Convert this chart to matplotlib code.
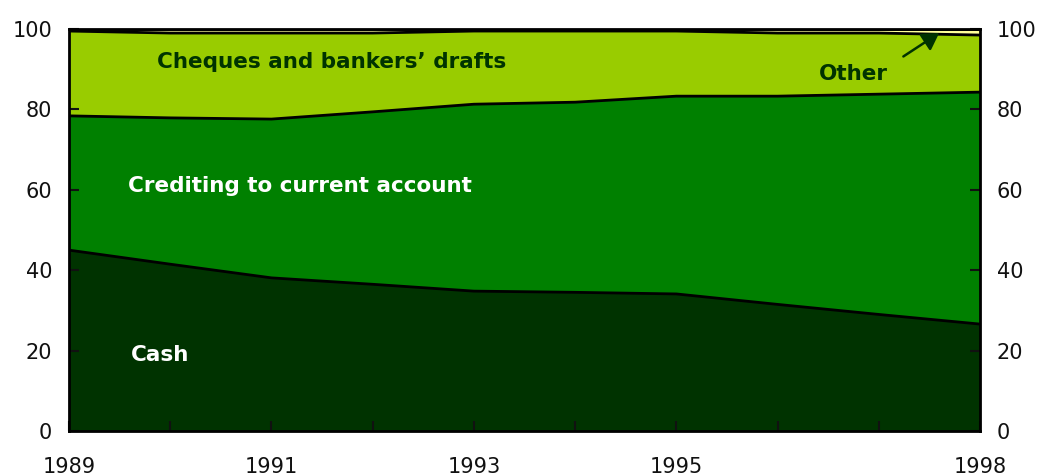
import numpy as np
import matplotlib
matplotlib.use("Agg")
import matplotlib.pyplot as plt

# share of non-cash and cash payments, per cent of total
years = [1989, 1990, 1991, 1992, 1993, 1994, 1995, 1996, 1997, 1998]
cash = [45.0, 41.5, 38.1, 36.5, 34.8, 34.5, 34.1, 31.5, 29.0, 26.6]
crediting = [33.4, 36.4, 39.5, 42.9, 46.5, 47.3, 49.2, 51.8, 54.8, 57.7]
cheques = [21.1, 21.1, 21.4, 19.6, 18.2, 17.7, 16.2, 15.7, 15.2, 14.2]
other = [0.5, 1.0, 1.0, 1.0, 0.5, 0.5, 0.5, 1.0, 1.0, 1.5]

year_labels = ['1989', '1991', '1993', '1995', '1998']
y_ticks = [0, 20, 40, 60, 80, 100]

colors = ['#003300', '#008000', '#99CC00', '#FFFF99']
dark = '#003300'

plt.rcParams['font.family'] = ['DejaVu Sans']

fig = plt.figure(figsize=(10.41, 4.76), dpi=100)
ax = fig.add_axes([0.0663, 0.0945, 0.8751, 0.8445])

x = np.array(years)
layers = np.vstack([cash, crediting, cheques, other])
tops = np.cumsum(layers, axis=0)
bottom = np.zeros(len(x))
for i, top in enumerate(tops):
    ax.fill_between(x, bottom, top, color=colors[i], lw=0)
    ax.plot(x, top, color='black', lw=2)
    bottom = top

ax.set_xlim(1989, 1998)
ax.set_ylim(0, 100)

ax.set_xticks(years)
ax.set_xticklabels([str(y) if str(y) in year_labels else '' for y in years])
ax.set_yticks(y_ticks)
ax.tick_params(axis='x', direction='in', length=7, width=1.5, pad=19,
               labelsize=15, colors='#111111')
ax.tick_params(axis='y', direction='in', length=7, width=1.5, pad=12,
               labelsize=15, colors='#111111', right=True, labelright=True)
for sp in ax.spines.values():
    sp.set_linewidth(2)
    sp.set_color('black')

kw = dict(fontsize=15.5, fontweight='bold', ha='center', va='center')
ax.text(1991.59, 91.8, "Cheques and bankers\u2019 drafts", color=dark, **kw)
ax.text(1991.28, 60.9, 'Crediting to current account', color='white', **kw)
ax.text(1989.9, 18.9, 'Cash', color='white', **kw)
ax.text(1996.75, 88.8, 'Other', color=dark, **kw)
ax.annotate('', xy=(1997.62, 99.4), xytext=(1997.22, 92.8),
            arrowprops=dict(arrowstyle='-|>,head_length=1.0,head_width=0.6',
                            color=dark, lw=1.8))

fig.savefig('out.png', dpi=100)
